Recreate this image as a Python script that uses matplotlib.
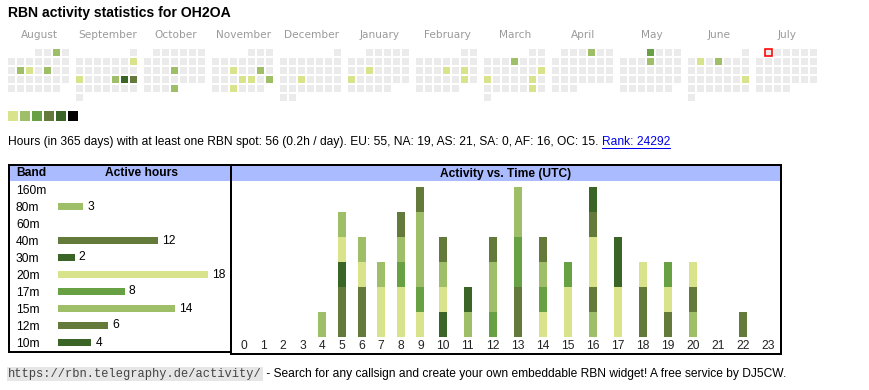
import datetime as dt
import matplotlib
matplotlib.use("Agg")
import matplotlib.pyplot as plt
from matplotlib.patches import Rectangle

plt.rcParams['font.family'] = ['Liberation Sans', 'DejaVu Sans']

W, H = 870, 390
PX = 0.72  # one pixel in points at 100 dpi

#######################
# data

callsign = "OH2OA"
month_names = ["August", "September", "October", "November", "December", "January",
               "February", "March", "April", "May", "June", "July"]
first_month = (2024, 8)
today = dt.date(2025, 7, 1)

active_dates = ["2024-08-03", "2024-08-13", "2024-08-14", "2024-08-16",
                "2024-09-08", "2024-09-16", "2024-09-20", "2024-09-21", "2024-09-22",
                "2024-10-17", "2024-10-31",
                "2024-11-13", "2024-11-16", "2024-11-21", "2024-11-22", "2024-11-24", "2024-11-27",
                "2024-12-18", "2025-01-15", "2025-01-20",
                "2025-02-13", "2025-02-15", "2025-02-22",
                "2025-03-06", "2025-03-16", "2025-03-17", "2025-03-22", "2025-03-29",
                "2025-04-04", "2025-05-01", "2025-05-08",
                "2025-06-03", "2025-06-05", "2025-06-22"]
active_levels = [2, 2, 1, 2,
                 1, 1, 2, 5, 4,
                 2, 2,
                 1, 2, 1, 1, 2, 1,
                 1, 1, 1,
                 1, 1, 1,
                 2, 1, 1, 1, 1,
                 2, 3, 2,
                 1, 2, 1]

level_colors = ["#ebebeb", "#d9e38b", "#9ebf68", "#68a044", "#637a3a", "#3b6526", "#000000"]

summary = ("Hours (in 365 days) with at least one RBN spot: 56 (0.2h / day). "
           "EU: 55, NA: 19, AS: 21, SA: 0, AF: 16, OC: 15. ")
rank_text = "Rank: 24292"

bands = ["160m", "80m", "60m", "40m", "30m", "20m", "17m", "15m", "12m", "10m"]
band_hours = [0, 3, 0, 12, 2, 18, 8, 14, 6, 4]
band_shade = ["Y", "L", "M", "O", "D", "Y", "M", "L", "O", "D"]
shade = {"Y": "#d9e38b", "L": "#9ebf68", "M": "#68a044", "O": "#637a3a", "D": "#3b6526"}

hours = list(range(24))
# one letter per active hour, bottom to top
hour_stacks = ["", "", "", "", "L", "OODYL", "OOYL", "YYL", "YYMLO", "YMLLLO",
               "DYLO", "LD", "MLLO", "OOMMLL", "YMLO", "YYM", "LOYYOD", "YYDD",
               "OOY", "OYM", "LOY", "", "O", ""]

url = "https://rbn.telegraphy.de/activity/"
footer = " - Search for any callsign and create your own embeddable RBN widget! A free service by DJ5CW."

#######################

fig = plt.figure(figsize=(8.7, 3.9), dpi=100)
page = fig.add_axes([0, 0, 1, 1])
page.set_xlim(0, W)
page.set_ylim(H, 0)
page.axis("off")


def px_axes(x0, y0, x1, y1):
    a = fig.add_axes([x0 / W, 1 - y1 / H, (x1 - x0) / W, (y1 - y0) / H])
    a.patch.set_alpha(0)
    for s in a.spines.values():
        s.set_visible(False)
    return a


page.text(8, 13, "RBN activity statistics for " + callsign, fontsize=14 * PX,
          fontweight="bold", va="center", ha="left")

# calendar
levels = dict(zip(active_dates, active_levels))
for i, name in enumerate(month_names):
    y0 = first_month[0] + (first_month[1] - 1 + i) // 12
    m0 = (first_month[1] - 1 + i) % 12 + 1
    first = dt.date(y0, m0, 1)
    nxt = dt.date(y0 + m0 // 12, m0 % 12 + 1, 1)
    bx = 8 + 68 * i
    page.text(bx + 31.5, 35, name, fontsize=10.5 * PX, color="#9a9a9a",
              ha="center", va="center", family="DejaVu Sans")
    for d in range((nxt - first).days):
        day = first + dt.timedelta(days=d)
        idx = first.weekday() + d
        x = bx + (idx % 7) * 9
        y = 49 + (idx // 7) * 9
        lvl = levels.get(day.isoformat(), 0)
        page.add_patch(Rectangle((x, y), 7, 7, facecolor=level_colors[lvl], edgecolor="none"))
        if day == today:
            page.add_patch(Rectangle((x, y), 7, 7, facecolor="none", edgecolor="red", lw=1.6 * PX))

for k, c in enumerate(level_colors[1:]):
    page.add_patch(Rectangle((8 + 12 * k, 111), 10, 10, facecolor=c, edgecolor="none"))

# summary line with link
r = fig.canvas.get_renderer()
inv = page.transData.inverted()
t = page.text(8, 142, summary, fontsize=12 * PX, va="center", ha="left")
bb = inv.transform(t.get_window_extent(renderer=r))
lk = page.text(bb[1][0], 142, rank_text, fontsize=12 * PX, va="center", ha="left", color="#0000ee")
lb = inv.transform(lk.get_window_extent(renderer=r))
page.plot([lb[0][0], lb[1][0]], [148, 148], color="#0000ee", lw=1 * PX)

# panel frames and headers
page.add_patch(Rectangle((10, 166), 220, 15, facecolor="#aabbff", edgecolor="none"))
page.add_patch(Rectangle((232, 166), 548, 15, facecolor="#aabbff", edgecolor="none"))
page.add_patch(Rectangle((9, 165), 222, 187, facecolor="none", edgecolor="black", lw=2 * PX))
page.add_patch(Rectangle((231, 165), 550, 189, facecolor="none", edgecolor="black", lw=2 * PX))
page.text(16, 173.5, "Band", fontsize=12 * PX, fontweight="bold", va="center")
page.text(141.5, 173.5, "Active hours", fontsize=12 * PX, fontweight="bold", va="center", ha="center")
page.text(506, 173.5, "Activity vs. Time (UTC)", fontsize=12 * PX, fontweight="bold",
          va="center", ha="center")

# band bars
ax1 = px_axes(58, 181, 230, 351)
ax1.barh(range(len(bands)), band_hours, height=0.41,
         color=[shade[s] for s in band_shade])
for i, v in enumerate(band_hours):
    if v:
        ax1.text(v + 0.5, i, str(v), va="center", ha="left", fontsize=12 * PX)
ax1.set_xlim(0, 172 / 8.33)
ax1.set_ylim(len(bands) - 0.5, -0.5)
ax1.set_xticks([])
ax1.set_yticks(range(len(bands)), bands, fontsize=12 * PX)
ax1.tick_params(axis="y", length=0, pad=42 * PX)
for lab in ax1.get_yticklabels():
    lab.set_horizontalalignment("left")

# activity vs time, column width follows label width
widths = [19.6 if h < 10 else 25.0 for h in hours]
centers = []
acc = 0
for w in widths:
    centers.append(acc + w / 2)
    acc += w
ax2 = px_axes(234.2, 181, 234.2 + acc, 336.7)
depth = max(len(s) for s in hour_stacks)
for k in range(depth):
    xs = [centers[h] for h in hours if len(hour_stacks[h]) > k]
    cs = [shade[hour_stacks[h][k]] for h in hours if len(hour_stacks[h]) > k]
    ax2.bar(xs, 1, bottom=k, width=8, color=cs)
ax2.set_xlim(0, acc)
ax2.set_ylim(0, 155.7 / 25)
ax2.set_yticks([])
ax2.set_xticks(centers, [str(h) for h in hours], fontsize=12 * PX, color="#222222")
ax2.tick_params(axis="x", length=0, pad=3 * PX)

# footer
u = page.text(8, 374, url, fontsize=12 * PX, family="Liberation Mono", color="#444444",
              va="center", ha="left",
              bbox=dict(facecolor="#e6e6e6", edgecolor="none", pad=1))
ub = inv.transform(u.get_window_extent(renderer=r))
page.text(ub[1][0] + 1, 374, footer, fontsize=12 * PX, va="center", ha="left")

fig.savefig("out.png", dpi=100)
